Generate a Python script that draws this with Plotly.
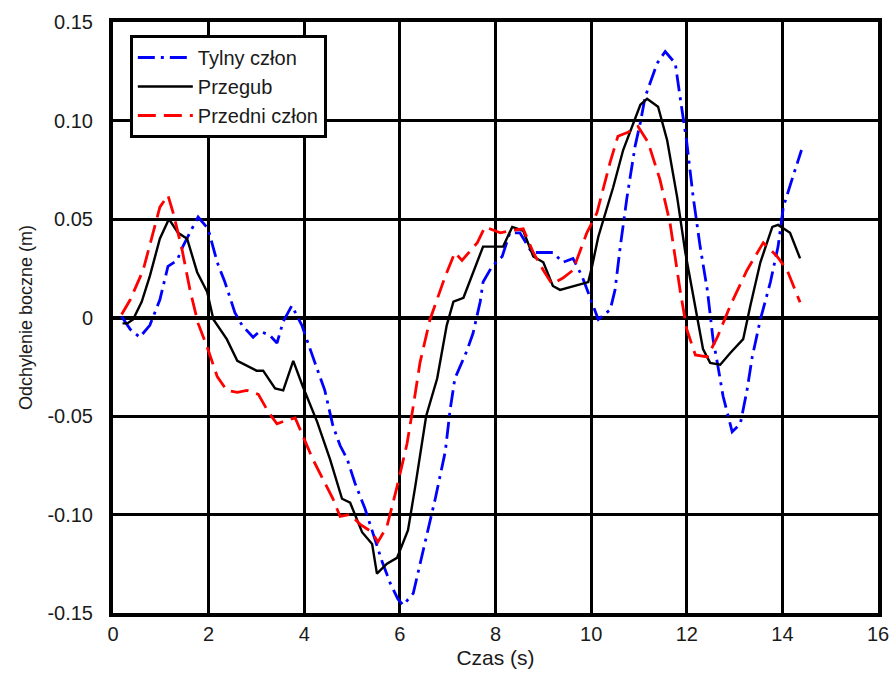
import plotly.graph_objects as go

# Przegub (black, solid)
t_przegub = [0.2, 0.3, 0.42, 0.6, 0.77, 0.98, 1.17, 1.36, 1.55, 1.76, 1.97, 2.1, 2.38, 2.6, 3.0, 3.14,
             3.39, 3.56, 3.77, 3.97, 4.27, 4.54, 4.79, 4.96, 5.21, 5.42, 5.52, 5.73, 5.94, 6.17, 6.32,
             6.55, 6.78, 6.98, 7.12, 7.33, 7.74, 8.16, 8.35, 8.58, 8.79, 9.0, 9.2, 9.35, 9.94, 10.02,
             10.15, 10.46, 10.67, 10.86, 11.03, 11.17, 11.4, 11.59, 11.8, 11.97, 12.18, 12.34, 12.49,
             12.7, 12.91, 13.18, 13.33, 13.54, 13.79, 13.91, 14.16, 14.37]
v_przegub = [-0.003, -0.003, -0.001, 0.008, 0.021, 0.040, 0.050, 0.043, 0.040, 0.023, 0.013, -0.001,
             -0.011, -0.022, -0.027, -0.027, -0.036, -0.037, -0.022, -0.035, -0.053, -0.072, -0.092,
             -0.094, -0.109, -0.115, -0.130, -0.125, -0.122, -0.108, -0.086, -0.050, -0.031, -0.004,
             0.008, 0.010, 0.036, 0.036, 0.046, 0.044, 0.031, 0.028, 0.016, 0.014, 0.018, 0.026, 0.041,
             0.066, 0.085, 0.097, 0.108, 0.111, 0.107, 0.090, 0.061, 0.033, 0.006, -0.016, -0.023,
             -0.024, -0.018, -0.011, 0.006, 0.028, 0.046, 0.047, 0.043, 0.030]

# Przedni człon (red, dashed)
t_przedni = [0.18, 0.36, 0.63, 0.84, 0.98, 1.15, 1.26, 1.44, 1.61, 1.78, 1.97, 2.18, 2.38, 2.6, 2.8,
             3.04, 3.25, 3.43, 3.64, 3.81, 3.97, 4.18, 4.39, 4.6, 4.75, 4.96, 5.17, 5.42, 5.54, 5.73,
             5.94, 6.15, 6.28, 6.42, 6.63, 6.7, 6.95, 7.15, 7.3, 7.62, 7.78, 8.1, 8.3, 8.58, 8.79, 9.0,
             9.18, 9.41, 9.62, 9.91, 10.12, 10.4, 10.56, 10.77, 10.98, 11.19, 11.44, 11.65, 11.86,
             12.0, 12.18, 12.43, 12.64, 12.91, 13.26, 13.6, 13.89, 14.1, 14.37]
v_przedni = [0.0015, 0.009, 0.024, 0.043, 0.056, 0.062, 0.053, 0.035, 0.014, -0.003, -0.015, -0.030,
             -0.037, -0.038, -0.037, -0.039, -0.048, -0.054, -0.052, -0.051, -0.060, -0.072, -0.082,
             -0.092, -0.101, -0.100, -0.105, -0.109, -0.114, -0.106, -0.086, -0.064, -0.045, -0.023,
             -0.001, 0.004, 0.021, 0.033, 0.029, 0.038, 0.046, 0.043, 0.044, 0.045, 0.033, 0.024, 0.017,
             0.020, 0.024, 0.043, 0.053, 0.079, 0.092, 0.094, 0.097, 0.089, 0.070, 0.048, 0.014,
             -0.006, -0.019, -0.020, -0.010, 0.006, 0.024, 0.038, 0.031, 0.024, 0.0077]

# Tylny człon (blue, dash-dot)
t_tylny = [0.18, 0.36, 0.56, 0.77, 0.98, 1.15, 1.34, 1.46, 1.65, 1.78, 1.99, 2.18, 2.34, 2.55, 2.7,
           2.93, 3.07, 3.28, 3.43, 3.56, 3.74, 3.95, 4.18, 4.43, 4.6, 4.75, 4.9, 5.06, 5.27, 5.48,
           5.63, 5.8, 5.96, 6.07, 6.28, 6.49, 6.74, 6.95, 7.05, 7.15, 7.26, 7.4, 7.53, 7.68, 7.74,
           7.93, 8.14, 8.3, 8.51, 8.76, 9.0, 9.2, 9.41, 9.62, 9.81, 10.02, 10.15, 10.4, 10.5, 10.61,
           10.75, 10.92, 11.03, 11.13, 11.38, 11.55, 11.76, 11.86, 12.0, 12.13, 12.28, 12.43, 12.55,
           12.64, 12.76, 12.95, 13.12, 13.26, 13.37, 13.54, 13.75, 13.91, 14.02, 14.2, 14.4]
v_tylny = [0.0005, -0.006, -0.010, -0.004, 0.009, 0.026, 0.029, 0.036, 0.045, 0.051, 0.045, 0.028,
           0.018, 0.0025, -0.004, -0.010, -0.007, -0.009, -0.013, -0.002, 0.006, -0.004, -0.020,
           -0.037, -0.055, -0.065, -0.072, -0.084, -0.097, -0.113, -0.124, -0.135, -0.143, -0.146,
           -0.140, -0.118, -0.092, -0.068, -0.047, -0.031, -0.025, -0.017, -0.008, 0.008, 0.018,
           0.026, 0.031, 0.043, 0.043, 0.033, 0.033, 0.033, 0.028, 0.030, 0.021, 0.007, -0.001,
           0.004, 0.014, 0.036, 0.061, 0.087, 0.099, 0.112, 0.129, 0.135, 0.129, 0.112, 0.089, 0.062,
           0.036, 0.014, -0.011, -0.023, -0.040, -0.058, -0.054, -0.037, -0.020, -0.001, 0.018,
           0.036, 0.056, 0.070, 0.085]

x_ticks = [0, 2, 4, 6, 8, 10, 12, 14, 16]
y_tickvals = [-0.15, -0.10, -0.05, 0, 0.05, 0.10, 0.15]
y_ticktext = ["-0.15", "-0.10", "-0.05", "0", "0.05", "0.10", "0.15"]

FONT = "Liberation Sans, Arial, sans-serif"

fig = go.Figure()
fig.add_trace(go.Scatter(x=t_tylny, y=v_tylny, mode="lines", name="Tylny człon",
                         line=dict(color="#0000ff", width=2.8, dash="17px,6px,3px,6px")))
fig.add_trace(go.Scatter(x=t_przegub, y=v_przegub, mode="lines", name="Przegub",
                         line=dict(color="#000000", width=2.4)))
fig.add_trace(go.Scatter(x=t_przedni, y=v_przedni, mode="lines", name="Przedni człon",
                         line=dict(color="#ff0000", width=2.8, dash="18px,8px")))

fig.update_layout(
    width=890, height=674,
    margin=dict(l=113, r=12, t=22, b=61),
    paper_bgcolor="white", plot_bgcolor="white",
    font=dict(family=FONT, size=20, color="#1a1a1a"),
    showlegend=True,
    legend=dict(x=0.022, y=0.978, xanchor="left", yanchor="top",
                bgcolor="white", bordercolor="black", borderwidth=3,
                font=dict(family=FONT, size=20, color="#1a1a1a"),
                tracegroupgap=0, itemwidth=55),
)
fig.update_xaxes(range=[0, 16], tickvals=x_ticks, showgrid=True, gridcolor="black", gridwidth=3,
                 showline=True, linecolor="black", linewidth=4, mirror=True, zeroline=False,
                 ticks="", tickfont=dict(size=20), automargin=False,
                 title=dict(text="Czas (s)", font=dict(size=21), standoff=7))
fig.update_yaxes(range=[-0.15, 0.15], tickvals=y_tickvals, ticktext=y_ticktext, showgrid=True,
                 gridcolor="black", gridwidth=3, showline=True, linecolor="black", linewidth=4,
                 mirror=True, zeroline=True, zerolinecolor="black", zerolinewidth=4,
                 ticks="", tickfont=dict(size=20), ticklabelstandoff=12, automargin=False,
                 title=dict(text="Odchylenie boczne (m)", font=dict(size=18), standoff=11))

fig.write_html("out.html")
